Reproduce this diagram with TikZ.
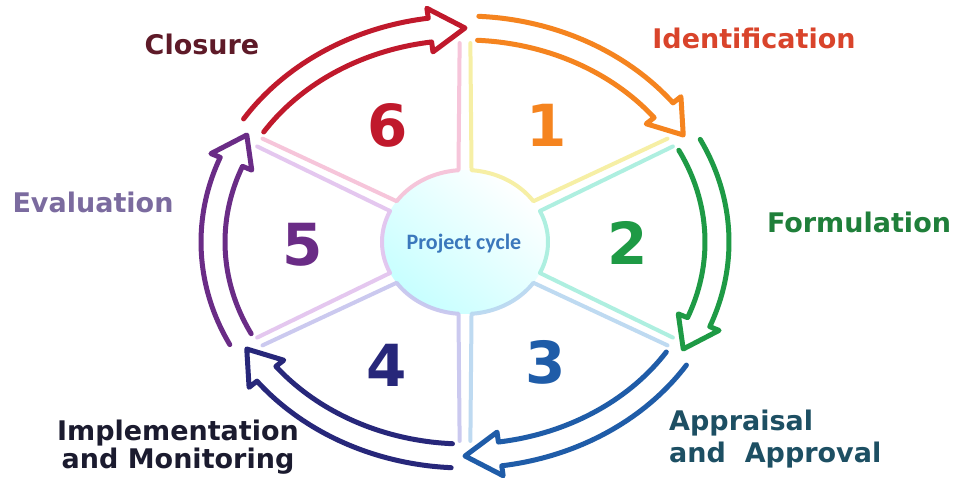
\documentclass[tikz,border=0pt]{standalone}
\usepackage{fontspec}
\setmainfont{DejaVu Sans}
\newfontfamily\pcfont{Carlito}
\definecolor{cRed}{HTML}{C0192C}
\definecolor{cOrange}{HTML}{F5841F}
\definecolor{cGreen}{HTML}{1E9A45}
\definecolor{cBlue}{HTML}{1F5CA8}
\definecolor{cNavy}{HTML}{27277A}
\definecolor{cPurple}{HTML}{6A2C86}
\definecolor{lClosure}{HTML}{5E1A28}
\definecolor{lIdent}{HTML}{D9442B}
\definecolor{lForm}{HTML}{1F7F3A}
\definecolor{lAppr}{HTML}{1D4F63}
\definecolor{lImpl}{HTML}{1B1B2F}
\definecolor{lEval}{HTML}{7B6B9F}
\definecolor{pYellow}{HTML}{F6EE9C}
\definecolor{pCyan}{HTML}{A6EEDD}
\definecolor{pBlue}{HTML}{B8D6F0}
\definecolor{pLav}{HTML}{C6C4EE}
\definecolor{pLilac}{HTML}{E2C2EE}
\definecolor{pPink}{HTML}{F6BFD6}
\definecolor{pcText}{HTML}{3B78BC}
\def\CX{465}\def\CY{235}\def\EA{240}\def\EB{202}
\newcommand\hollowarrow[3]{%
  \draw[#3, line width=5, line join=round, line cap=round]
    plot[domain=#1-3:#2+8, samples=40] ({\CX+(\EA+24)*cos(\x)},{\CY+(\EB+24)*sin(\x)})
    -- ({\CX+(\EA+34)*cos(#2+8)},{\CY+(\EB+34)*sin(#2+8)})
    -- ({\CX+(\EA+12)*cos(#2)},{\CY+(\EB+12)*sin(#2)})
    -- ({\CX+(\EA-10)*cos(#2+8)},{\CY+(\EB-10)*sin(#2+8)})
    -- plot[domain=#2+8:#1-3, samples=40] ({\CX+\EA*cos(\x)},{\CY+\EB*sin(\x)});
}
\newcommand\sectorline[3]{%
  \draw[#3, line width=4, line join=round, line cap=round, opacity=0.9]
    ({\CX+(\EA-3)*cos(#1-1.3)},{\CY+(\EB-3)*sin(#1-1.3)})
    -- plot[domain=#1-4.5:#2+4.5, samples=30] ({\CX+83*cos(\x)},{\CY+72*sin(\x)})
    -- ({\CX+(\EA-3)*cos(#2+1.3)},{\CY+(\EB-3)*sin(#2+1.3)});
}
\begin{document}
\lineskiplimit=-50pt\relax
\begin{tikzpicture}[x=1pt,y=1pt,
  lab/.style={font=\fontsize{27}{30}\selectfont\bfseries, inner sep=0pt},
  digit/.style={font=\fontsize{58}{60}\selectfont\bfseries, inner sep=0pt}]
\useasboundingbox (0,0) rectangle (960,477);
\fill[white] (0,0) rectangle (960,477);
% central circle
\shade[top color=white, bottom color=cyan!22!white, shading angle=-40]
  (\CX,\CY) ellipse [x radius=83, y radius=72];
% sector outlines
\sectorline{90}{30}{pYellow}
\sectorline{30}{-30}{pCyan}
\sectorline{-30}{-90}{pBlue}
\sectorline{-90}{-150}{pLav}
\sectorline{-150}{-210}{pLilac}
\sectorline{150}{90}{pPink}
% hollow arrows
\hollowarrow{150}{90}{cRed}
\hollowarrow{90}{30}{cOrange}
\hollowarrow{30}{-30}{cGreen}
\hollowarrow{-30}{-90}{cBlue}
\hollowarrow{-90}{-150}{cNavy}
\hollowarrow{-150}{-210}{cPurple}
% centre text
\node[font=\pcfont\fontsize{22}{24}\selectfont\bfseries, text=pcText, anchor=base, inner sep=0pt] (centre) at (464,228) {Project cycle};
% digits
\node[digit, text=cOrange] (d1) at (547,352) {1};
\node[digit, text=cGreen] (d2) at (628,234) {2};
\node[digit, text=cBlue] (d3) at (546,115) {3};
\node[digit, text=cNavy] (d4) at (387,112) {4};
\node[digit, text=cPurple] (d5) at (303,232) {5};
\node[digit, text=cRed] (d6) at (388,352) {6};
% labels
\node[lab, text=lClosure, anchor=base] (closure) at (202,422) {Closure};
\node[lab, text=lIdent, anchor=base] (ident) at (754,428) {Identification};
\node[lab, text=lForm, anchor=base] (form) at (859,244) {Formulation};
\node[lab, text=lEval, anchor=base] (eval) at (93,264) {Evaluation};
\node[lab, text=lAppr, anchor=west, align=left, font=\fontsize{27}{32}\selectfont\bfseries] (appr) at (669,38) {Appraisal\\and\ \ Approval};
\node[lab, text=lImpl, align=center, font=\fontsize{27}{27.5}\selectfont\bfseries] (impl) at (178,30) {Implementation\\and Monitoring};
\end{tikzpicture}
\end{document}
